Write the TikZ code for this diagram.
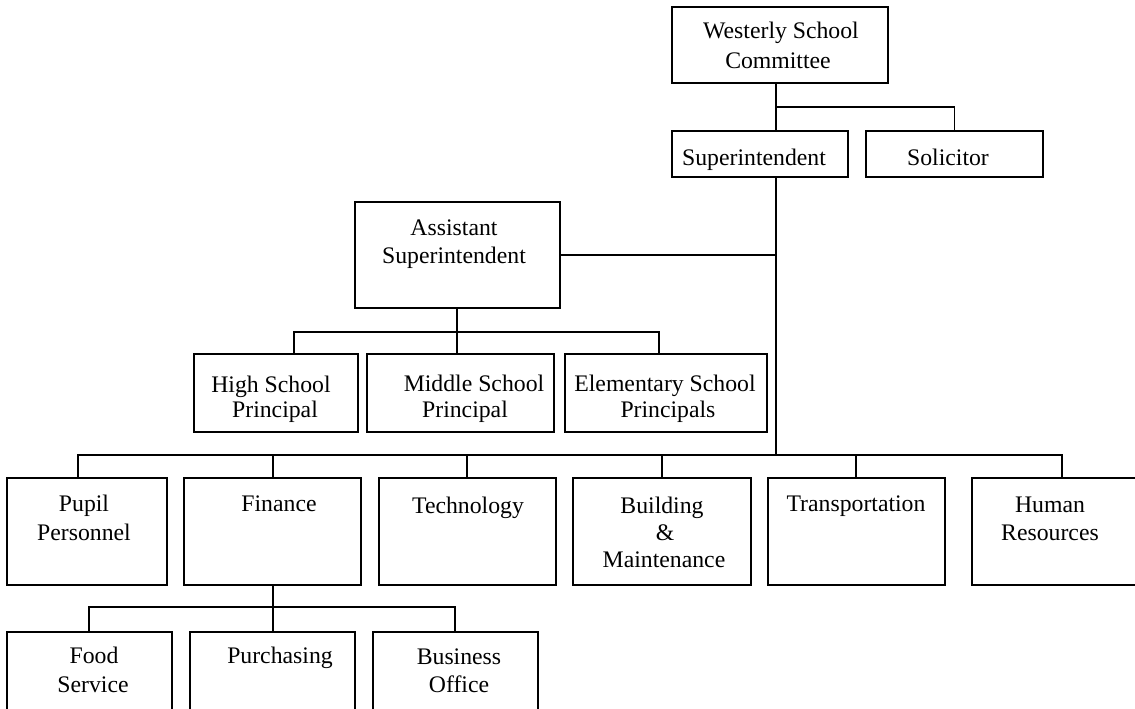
\documentclass[tikz,border=0pt]{standalone}
\usepackage{fontspec}
\setmainfont{Liberation Serif}
\usetikzlibrary{fit}
\begin{document}
\begin{tikzpicture}[x=0.75pt,y=-0.75pt,
  box/.style={draw, line width=1.3pt, inner sep=0pt},
  link/.style={line width=1.3pt},
  lbl/.style={anchor=base, inner sep=0pt, font=\fontsize{17.8pt}{21pt}\selectfont}]
\useasboundingbox (0,0) rectangle (1135,708);
\clip (0,0) rectangle (1135,708);
% boxes
\node[box, fit={(672,7) (888,83)}] (com) {};
\node[box, fit={(672,131) (848,177)}] (sup) {};
\node[box, fit={(866,131) (1043,177)}] (sol) {};
\node[box, fit={(355,202) (560,308)}] (asst) {};
\node[box, fit={(194,354) (358,432)}] (hs) {};
\node[box, fit={(367,354) (554,432)}] (ms) {};
\node[box, fit={(565,354) (767,432)}] (es) {};
\node[box, fit={(7,478) (167,585)}] (pp) {};
\node[box, fit={(184,478) (361,585)}] (fin) {};
\node[box, fit={(379,478) (556,585)}] (tech) {};
\node[box, fit={(573,478) (751,585)}] (bm) {};
\node[box, fit={(768,478) (945,585)}] (tr) {};
\node[box, fit={(972,478) (1145,585)}] (hr) {};
\node[box, fit={(7,632) (172,720)}] (fs) {};
\node[box, fit={(190,632) (355,720)}] (pur) {};
\node[box, fit={(373,632) (538,720)}] (bo) {};
% connector coordinates
\coordinate (T) at (776,0);
\coordinate (jc) at (776,107);
\coordinate (jb) at (776,455);
\coordinate (bl) at (78,455);
\coordinate (br) at (1062,455);
\coordinate (ja) at (457,0);
\coordinate (al) at (294,332);
\coordinate (ar) at (659,332);
\coordinate (dfin) at (273,455);
\coordinate (dtech) at (467,455);
\coordinate (dbm) at (662,455);
\coordinate (dtr) at (856,455);
\coordinate (jf) at (273,607);
\coordinate (fl) at (89,607);
\coordinate (fr) at (455,607);
% connectors
\draw[link] (com.south -| T) -- (sup.north -| T);
\draw[link] (jc) -| (sol.north);
\draw[link] (sup.south -| T) -- (jb);
\draw[link] (asst.east) -- (asst.east -| T);
\draw[link] (asst.south -| ja) -- (ms.north -| ja);
\draw[link] (al |- hs.north) -- (al) -- (ar) -- (ar |- es.north);
\draw[link] (bl |- pp.north) -- (bl) -- (br) -- (br |- hr.north);
\draw[link] (dfin) -- (dfin |- fin.north);
\draw[link] (dtech) -- (dtech |- tech.north);
\draw[link] (dbm) -- (dbm |- bm.north);
\draw[link] (dtr) -- (dtr |- tr.north);
\draw[link] (fin.south -| jf) -- (jf |- pur.north);
\draw[link] (fl |- fs.north) -- (fl) -- (fr) -- (fr |- bo.north);
% labels
\node[lbl] (t1) at (781,38) {Westerly School};
\node[lbl] (t2) at (778,68) {Committee};
\node[lbl] (t3) at (754,165) {Superintendent};
\node[lbl] (t4) at (948,165) {Solicitor};
\node[lbl] (t5) at (454,235) {Assistant};
\node[lbl] (t6) at (454,263) {Superintendent};
\node[lbl] (t7) at (271,392) {High School};
\node[lbl] (t8) at (275,417) {Principal};
\node[lbl] (t9) at (474,391) {Middle School};
\node[lbl] (t10) at (465,417) {Principal};
\node[lbl] (t11) at (665,391) {Elementary School};
\node[lbl] (t12) at (668,417) {Principals};
\node[lbl] (t13) at (84,511) {Pupil};
\node[lbl] (t14) at (84,540) {Personnel};
\node[lbl] (t15) at (279,511) {Finance};
\node[lbl] (t16) at (468,513) {Technology};
\node[lbl] (t17) at (662,513) {Building};
\node[lbl] (t18) at (665,540) {\&};
\node[lbl] (t19) at (664,567) {Maintenance};
\node[lbl] (t20) at (856,511) {Transportation};
\node[lbl] (t21) at (1050,512) {Human};
\node[lbl] (t22) at (1050,540) {Resources};
\node[lbl] (t23) at (94,663) {Food};
\node[lbl] (t24) at (93,692) {Service};
\node[lbl] (t25) at (280,663) {Purchasing};
\node[lbl] (t26) at (459,664) {Business};
\node[lbl] (t27) at (459,692) {Office};
\end{tikzpicture}
\end{document}
